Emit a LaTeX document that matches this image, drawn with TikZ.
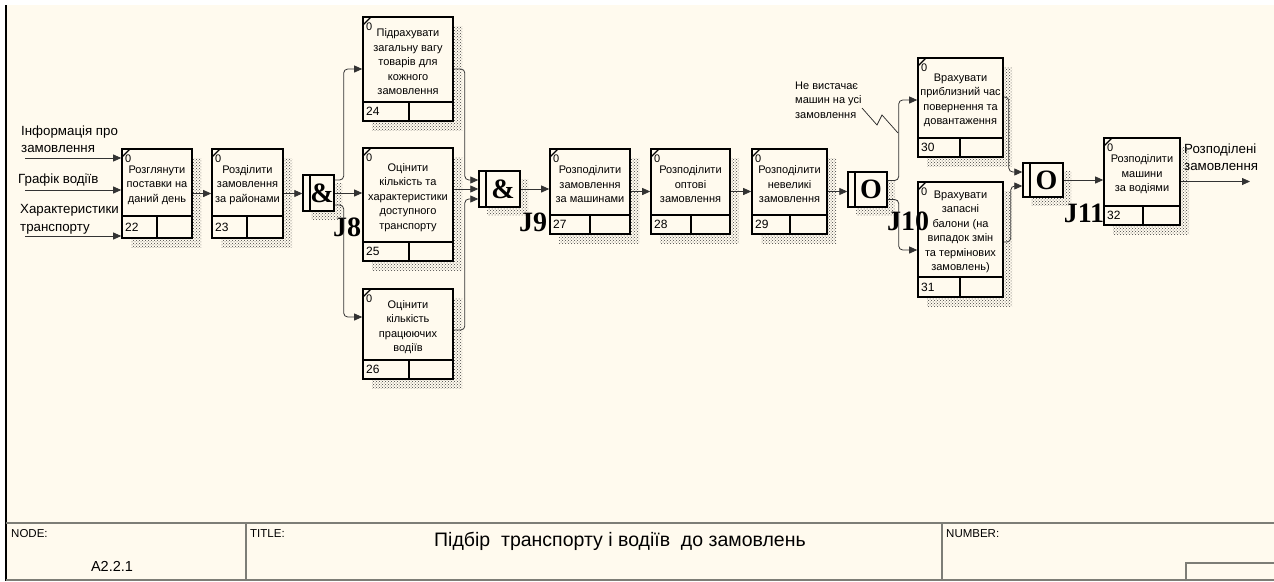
\documentclass[tikz,border=0pt]{standalone}
\usepackage{fontspec}
\setmainfont{Liberation Sans}
\newfontfamily\serifb{Liberation Serif}
\usetikzlibrary{arrows.meta,patterns}
\definecolor{cream}{RGB}{255,250,238}
\definecolor{framegray}{RGB}{125,125,118}
\tikzset{
 boxst/.style={draw=black,line width=1.6pt,fill=cream,inner sep=0pt},
 shadowfill/.style={pattern=crosshatch dots,pattern color=black!75},
 conn/.style={draw=black!80,line width=0.8pt,rounded corners=4pt,-{Triangle[length=8pt,width=7pt]}},
 boxtxt/.style={font=\fontsize{11}{14.5}\selectfont,align=center,inner sep=0pt},
 numtxt/.style={font=\fontsize{12}{13}\selectfont,inner sep=0pt,anchor=west},
 zerotxt/.style={font=\fontsize{11}{12}\selectfont,inner sep=0pt,anchor=west},
 lbl/.style={font=\fontsize{13.3}{17.5}\selectfont,align=left,inner sep=0pt,anchor=west},
 notetxt/.style={font=\fontsize{11}{14.5}\selectfont,align=left,inner sep=0pt,anchor=west},
 jlbl/.style={font=\serifb\bfseries\fontsize{28}{28}\selectfont,inner sep=0pt},
 jsym/.style={font=\serifb\bfseries\fontsize{28}{28}\selectfont,inner sep=0pt},
 smalltxt/.style={font=\fontsize{11.5}{12}\selectfont,inner sep=0pt,anchor=north west},
 framel/.style={draw=framegray,line width=1.5pt},
}
% name, x1, y1, x2, y2, divx, divy, number, text
\newcommand\idefbox[9]{%
 \fill[shadowfill] ({#2+9},{#3+9}) rectangle ({#4+9},{#5+9});
 \pgfmathsetmacro\bw{#4-#2}\pgfmathsetmacro\bh{#5-#3}%
 \node[boxst,minimum width=\bw pt,minimum height=\bh pt] (#1) at ({(#2+#4)/2},{(#3+#5)/2}) {};
 \draw[line width=1.6pt] (#2,#7) -- (#4,#7) (#6,#7) -- (#6,#5);
 \draw[line width=1.2pt] (#2,{#3+8}) -- ({#2+8},#3);
 \node[zerotxt] (#1-z) at ({#2+3},{#3+10}) {0};
 \node[numtxt] (#1-n) at ({#2+3},{(#7+#5)/2}) {#8};
 \node[boxtxt] (#1-t) at ({(#2+#4)/2},{(#3+#7)/2+2.5}) {#9};
}
% name, x1, y1, x2, y2, symbol
\newcommand\junctionbox[6]{%
 \fill[shadowfill] ({#2+8},{#3+8}) rectangle ({#4+8},{#5+8});
 \pgfmathsetmacro\bw{#4-#2}\pgfmathsetmacro\bh{#5-#3}%
 \node[boxst,line width=1.4pt,minimum width=\bw pt,minimum height=\bh pt] (#1) at ({(#2+#4)/2},{(#3+#5)/2}) {};
 \draw[line width=1.2pt] ({#2+7},#3) -- ({#2+7},#5);
 \node[jsym] (#1-s) at ({(#2+7+#4)/2},{(#3+#5)/2}) {#6};
}
\begin{document}
\begin{tikzpicture}[x=1pt,y=-1pt]
\useasboundingbox (0,0) rectangle (1274,581);
\fill[white] (0,0) rectangle (1274,581);
\fill[cream] (6,5) rectangle (1274,581);
\draw[line width=1.5pt] (6,5) -- (6,581);

% boxes
\idefbox{b22}{122}{149}{192}{238}{157}{216}{22}{Розглянути\\поставки на\\даний день}
\idefbox{b23}{212}{149}{283}{238}{247}{216}{23}{Розділити\\замовлення\\за районами}
\idefbox{b24}{363}{17}{453}{121}{409}{102}{24}{Підрахувати\\загальну вагу\\товарів для\\кожного\\замовлення}
\idefbox{b25}{363}{148}{453}{261}{409}{242}{25}{Оцінити\\кількість та\\характеристики\\доступного\\транспорту}
\idefbox{b26}{363}{289}{453}{379}{409}{360}{26}{Оцінити\\кількість\\працюючих\\водіїв}
\idefbox{b27}{550}{149}{630}{234}{590}{215}{27}{Розподілити\\замовлення\\за машинами}
\idefbox{b28}{651}{149}{730}{234}{691}{215}{28}{Розподілити\\оптові\\замовлення}
\idefbox{b29}{752}{149}{827}{234}{790}{215}{29}{Розподілити\\невеликі\\замовлення}
\idefbox{b30}{918}{58}{1003}{157}{960}{138}{30}{Врахувати\\приблизний час\\повернення та\\довантаження}
\idefbox{b31}{918}{182}{1003}{297}{960}{277}{31}{Врахувати\\запасні\\балони (на\\випадок змін\\та термінових\\замовлень)}
\idefbox{b32}{1104}{138}{1180}{225}{1143}{206}{32}{Розподілити\\машини\\за водіями}

% junctions
\junctionbox{J8}{303}{175}{334}{211}{\&}
\junctionbox{J9}{479}{171}{520}{207}{\&}
\junctionbox{J10}{848}{172}{887}{207}{O}
\junctionbox{J11}{1023}{163}{1063}{197}{O}
\node[jlbl] (J8l) at (347,227) {J8};
\node[jlbl] (J9l) at (533,222) {J9};
\node[jlbl] (J10l) at (908,221) {J10};
\node[jlbl] (J11l) at (1084,213) {J11};

% inputs
\node[lbl] (L1) at (21,139) {Інформація про\\замовлення};
\node[lbl] (L2) at (18,180) {Графік водіїв};
\node[lbl] (L3) at (20,219.5) {Характеристики\\транспорту};
\coordinate (in1) at (25,158);
\coordinate (in2) at (25,190);
\coordinate (in3) at (25,236);
\draw[conn] (in1) -- (in1 -| b22.west);
\draw[conn] (in2) -- (in2 -| b22.west);
\draw[conn] (in3) -- (in3 -| b22.west);

% connectors
\draw[conn] (b22.east) -- (b23.west);
\draw[conn] (b23.east) -- (b23.east -| J8.west);
\draw[conn] ([yshift=13pt]J8.east) -- ++(9,0) |- (b24.west);
\draw[conn] (J8.east) -- (J8.east -| b25.west);
\draw[conn] ([yshift=-12pt]J8.east) -- ++(9,0) |- ([yshift=17pt]b26.west);
\draw[conn] (b24.east) -- ++(11,0) |- ([yshift=9pt]J9.west);
\draw[conn] (J9.west -| b25.east) -- (J9.west);
\draw[conn] ([yshift=4pt]b26.east) -- ++(11,0) |- ([yshift=-10pt]J9.west);
\draw[conn] (J9.east) -- (J9.east -| b27.west);
\draw[conn] (b27.east) -- (b28.west);
\draw[conn] (b28.east) -- (b29.west);
\draw[conn] (b29.east) -- (b29.east -| J10.west);
\draw[conn] ([yshift=9pt]J10.east) -- ++(11,0) |- ([yshift=7.5pt]b30.west);
\draw[conn] ([yshift=-10pt]J10.east) -- ++(11,0) |- ([yshift=-10.5pt]b31.west);
\draw[conn] ([yshift=10.5pt]b30.east) -- ++(5,0) |- ([yshift=8pt]J11.west);
\draw[conn] ([yshift=-2.5pt]b31.east) -- ++(7,0) |- ([yshift=-6pt]J11.west);
\draw[conn] (J11.east) -- (J11.east -| b32.west);
\coordinate (out) at (1250,181);
\draw[conn] (b32.east) -- (b32.east -| out);
\node[lbl] (Lout) at (1184,157) {Розподілені\\замовлення};

% annotation
\node[notetxt] (note) at (795,100) {Не вистачає\\машин на усі\\замовлення};
\coordinate (sq0) at (862,108);
\coordinate (sq1) at (877,125);
\coordinate (sq2) at (882,115);
\coordinate (sq3) at (898,133);
\draw[black!85,line width=0.7pt] (sq0) -- (sq1) -- (sq2) -- (sq3);

% title block
\draw[framel] (6,523) -- (1274,523);
\draw[framel] (6,580) -- (1274,580);
\draw[framel] (246,523) -- (246,581);
\draw[framel] (942,523) -- (942,581);
\draw[framel] (1186,581) -- (1186,563) -- (1274,563);
\node[smalltxt] (nodel) at (11,529) {NODE:};
\node[smalltxt] (titlel) at (250,529) {TITLE:};
\node[smalltxt] (numl) at (946,529) {NUMBER:};
\node[font=\fontsize{14.5}{16}\selectfont,inner sep=0pt] (nodev) at (112,566) {A2.2.1};
\node[font=\fontsize{19.5}{22}\selectfont,inner sep=0pt] (titlev) at (620,541) {Підбір\ \ транспорту і водіїв\ \ до замовлень};
\end{tikzpicture}
\end{document}
